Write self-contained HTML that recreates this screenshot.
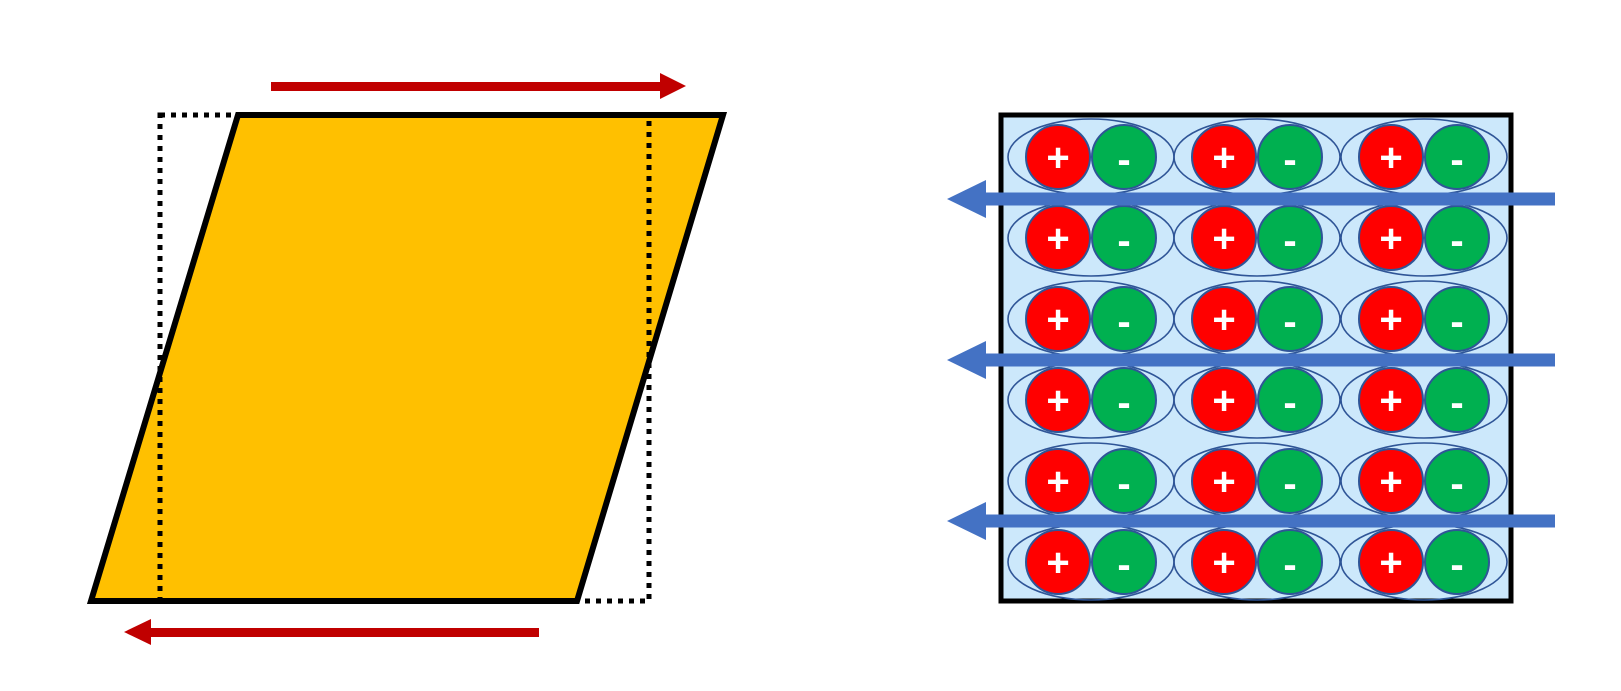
<!DOCTYPE html>
<html>
<head>
<meta charset="utf-8">
<style>
html,body{margin:0;padding:0;background:#fff;}
svg{display:block;}
text{font-family:"Liberation Sans",sans-serif;font-weight:bold;fill:#fff;}
</style>
</head>
<body>
<svg width="1621" height="691" viewBox="0 0 1621 691">
  <!-- Left: sheared block -->
  <g>
    <polygon points="238,115 723,115 577,601 91,601" fill="#ffc000" stroke="#000" stroke-width="6" stroke-linejoin="miter"/>
    <rect x="160" y="115" width="489" height="486" fill="none" stroke="#000" stroke-width="5" stroke-dasharray="5 6"/>
    <g>
      <rect x="271" y="82" width="392" height="9" fill="#c00000"/>
      <polygon points="660,73 686,86 660,99" fill="#c00000"/>
    </g>
    <g>
      <rect x="148" y="628" width="391" height="9" fill="#c00000"/>
      <polygon points="151,619 124,632 151,645" fill="#c00000"/>
    </g>
  </g>

  <!-- Right: dipole lattice -->
  <g>
    <rect x="1001" y="115" width="510" height="486" fill="#cce8fb" stroke="#000" stroke-width="5"/>
    <g id="dipoles"></g>
    <g id="arrows"></g>
  </g>
</svg>
<script>
const rows = [157, 238, 319, 400, 481, 562];
const cols = [1091, 1257, 1424];
const arrowRows = [199, 360, 521];
const NS = "http://www.w3.org/2000/svg";
const g = document.getElementById('dipoles');
function mk(tag, attrs){const e=document.createElementNS(NS,tag);for(const k in attrs)e.setAttribute(k,attrs[k]);return e;}
rows.forEach(function(cy, ri){
  cols.forEach(function(cx, ci){
    const grp = mk('g', {});
    
    
    const el = mk('ellipse', {cx:cx, cy:cy, rx:83, ry:38, fill:'none', stroke:'#2f5597', 'stroke-width':1.6});
    
    
    grp.appendChild(el);
    const pc = mk('circle', {cx:cx-33, cy:cy, r:32, fill:'#ff0000', stroke:'#2f5597', 'stroke-width':2});
    
    
    grp.appendChild(pc);
    const nc = mk('circle', {cx:cx+33, cy:cy, r:32, fill:'#00b050', stroke:'#2f5597', 'stroke-width':2});
    
    
    grp.appendChild(nc);
    const pt = mk('text', {x:cx-33, y:cy+14, 'text-anchor':'middle', 'font-size':40});
    pt.textContent = '+';
    
    
    grp.appendChild(pt);
    const nt = mk('text', {x:cx+33, y:cy+16, 'text-anchor':'middle', 'font-size':40});
    nt.textContent = '-';
    
    
    grp.appendChild(nt);
    g.appendChild(grp);
  });
});
const ag = document.getElementById('arrows');
arrowRows.forEach(function(y){
  const grp = mk('g', {});
  
  
  grp.appendChild(mk('rect', {x:980, y:y-6.5, width:575, height:13, fill:'#4472c4'}));
  grp.appendChild(mk('polygon', {points:'986,'+(y-19)+' 947,'+y+' 986,'+(y+19), fill:'#4472c4'}));
  ag.appendChild(grp);
});
</script>
</body>
</html>
